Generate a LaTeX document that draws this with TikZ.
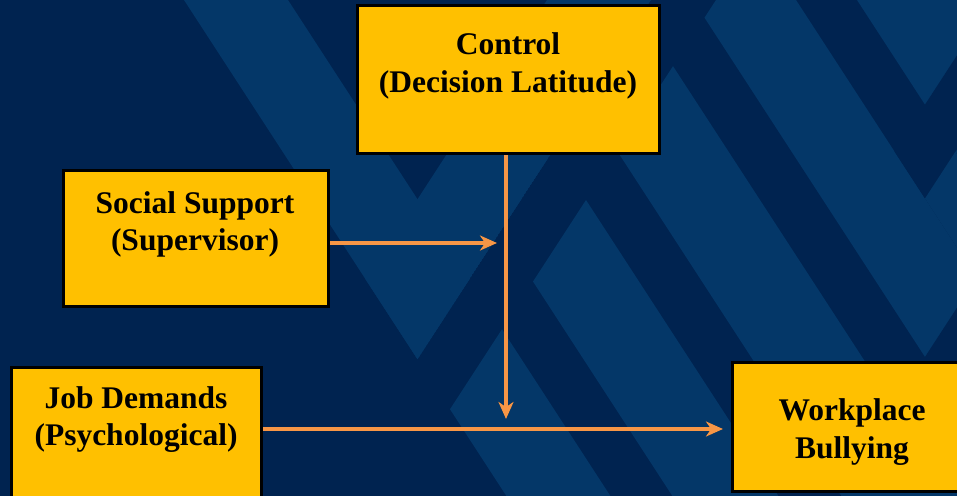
\documentclass[tikz,border=0pt]{standalone}
\usepackage{fontspec}
\setmainfont{Liberation Serif}
\usetikzlibrary{arrows.meta}
\definecolor{bgdark}{HTML}{002350}
\definecolor{bglight}{HTML}{043768}
\definecolor{boxgold}{HTML}{FFC000}
\definecolor{arroworange}{HTML}{F79646}
\begin{document}
\begin{tikzpicture}[x=1pt,y=-1pt,
  gbox/.style={draw=black, line width=3pt, fill=boxgold, rectangle, inner sep=0pt},
  lbl/.style={font=\fontsize{31.5}{38}\selectfont\bfseries, anchor=base, inner sep=0pt, text=black},
  arr/.style={draw=arroworange, line width=4.3pt, -{Stealth[length=17pt,width=15pt,inset=5pt]}},
  shd/.style={draw=black, opacity=0.3, line width=4.3pt, xshift=1pt, yshift=-2.5pt, -{Stealth[length=17pt,width=15pt,inset=5pt]}}
]
\useasboundingbox (0,0) rectangle (957,495);
\clip (-8,-8) rectangle (965,503);
% background
\fill[bgdark] (-8,-8) rectangle (965,503);
% "\" stripes right of the dark "/" band
\begin{scope}
  \clip (755,-60) -- (1400,-60) -- (1400,560) -- (352,560) -- cycle;
  \foreach \a/\b in {184/288, 350/456, 519/630, 693/796, 857/960, 1023/1127}
    \fill[bglight] (\a-39,-60) -- (\b-39,-60) -- (\b+364,560) -- (\a+364,560) -- cycle;
\end{scope}
% light V at the left
\begin{scope}
  \clip (145,-60) -- (690,-60) -- (417.5,359.2) -- cycle;
  \fill[bglight] (145,-60) -- (249,-60) -- (652,560) -- (548,560) -- cycle;
  \fill[bglight] (586,-60) -- (690,-60) -- (287,560) -- (183,560) -- cycle;
\end{scope}
% dark V at top right
\begin{scope}
  \clip (757,-60) -- (1400,-60) -- (1400,560) -- (1160,560) -- cycle;
  \fill[bgdark] (1032,-60) -- (1093,-60) -- (690,560) -- (629,560) -- cycle;
\end{scope}
\begin{scope}
  \clip (757,-60) -- (818,-60) -- (1221,560) -- (1160,560) -- cycle;
  \fill[bglight] (1093,-60) -- (1400,-60) -- (1400,560) -- (690,560) -- cycle;
\end{scope}
% dark V at lower right
\begin{scope}
  \clip (591,-60) -- (1400,-60) -- (1400,560) -- (994,560) -- cycle;
  \fill[bgdark] (1196,-60) -- (1258,-60) -- (855,560) -- (793,560) -- cycle;
\end{scope}
\begin{scope}
  \clip (591,-60) -- (654,-60) -- (1057,560) -- (994,560) -- cycle;
  \fill[bglight] (1258,-60) -- (1400,-60) -- (1400,560) -- (855,560) -- cycle;
\end{scope}

% boxes
\node[gbox, minimum width=302pt, minimum height=148pt] (ctrl) at (508,79.5) {};
\node[gbox, minimum width=265pt, minimum height=136pt] (ss) at (196,238.5) {};
\node[gbox, minimum width=250pt, minimum height=160pt] (jd) at (136.5,447.5) {};
\node[gbox, minimum width=260pt, minimum height=129pt] (wb) at (862.5,427) {};

% texts
\node[lbl] (ctrlA) at (508,55) {Control};
\node[lbl] (ctrlB) at (508,92) {(Decision Latitude)};
\node[lbl] (ssA) at (195,213) {Social Support};
\node[lbl] (ssB) at (195,250) {(Supervisor)};
\node[lbl] (jdA) at (136,408) {Job Demands};
\node[lbl] (jdB) at (136,445) {(Psychological)};
\node[lbl] (wbA) at (852,420) {Workplace};
\node[lbl] (wbB) at (852,458) {Bullying};

% connectors
\coordinate (ssend) at (497,243);
\coordinate (vend) at (506,419);
\coordinate (mainend) at (723,429);
\draw[shd] (ss.east |- ssend) -- (ssend);
\draw[shd] (ctrl.south -| vend) -- (vend);
\draw[shd] (jd.east |- mainend) -- (mainend);
\draw[arr] (ss.east |- ssend) -- (ssend);
\draw[arr] (ctrl.south -| vend) -- (vend);
\draw[arr] (jd.east |- mainend) -- (mainend);
\end{tikzpicture}
\end{document}
